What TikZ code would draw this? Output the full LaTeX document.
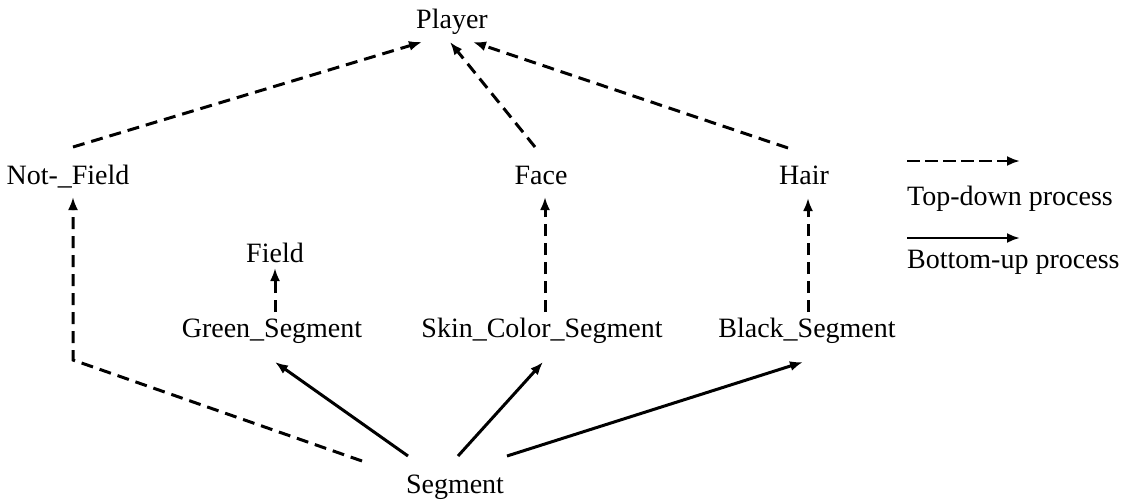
\documentclass[tikz,border=0pt]{standalone}
\usepackage{fontspec}
\setmainfont{Liberation Serif}
\usetikzlibrary{arrows.meta}

\tikzset{
  lbl/.style={font=\fontsize{28}{32}\selectfont, inner sep=0pt, anchor=base},
  link/.style={line width=3pt, -{Latex[length=13pt,width=10pt]}},
  topdown/.style={link, dash pattern=on 12pt off 7pt},
  bottomup/.style={link},
  keyline/.style={line width=2.5pt, -{Latex[length=13pt,width=10pt]}},
}

\begin{document}
\begin{tikzpicture}[x=1pt,y=-1pt]
  \useasboundingbox (0,0) rectangle (1126,499);

  % concept nodes
  \node[lbl] (pl) at (452,28)  {Player};
  \node[lbl] (nf) at (68,184)  {Not-\_Field};
  \node[lbl] (fa) at (541,184) {Face};
  \node[lbl] (ha) at (804,184) {Hair};
  \node[lbl] (fi) at (275,262) {Field};
  \node[lbl] (gs) at (272,337) {Green\_Segment};
  \node[lbl] (sk) at (542,337) {Skin\_Color\_Segment};
  \node[lbl] (bs) at (807,337) {Black\_Segment};
  \node[lbl] (sg) at (455,493) {Segment};

  % top-down links
  \draw[topdown] ([shift={(5,-37)}]nf.base)  -- ([shift={(-30,14)}]pl.base);
  \draw[topdown] ([shift={(-6,-37)}]fa.base) -- ([shift={(-2,14)}]pl.base);
  \draw[topdown] ([shift={(-16,-36)}]ha.base) -- ([shift={(21,14)}]pl.base);
  \draw[topdown] ([shift={(3,-25)}]sk.base) -- ([shift={(4,13)}]fa.base);
  \draw[topdown] ([shift={(1,-25)}]bs.base) -- ([shift={(4,14)}]ha.base);
  \draw[topdown] ([shift={(3,-25)}]gs.base) -- ([shift={(0,6)}]fi.base);
  \coordinate (bend) at ([shift={(5,176)}]nf.base);
  \draw[topdown] ([shift={(-93,-32)}]sg.base) -- (bend) -- ([shift={(5,13)}]nf.base);

  % bottom-up links
  \draw[bottomup] ([shift={(-47,-37)}]sg.base) -- ([shift={(3,25)}]gs.base);
  \draw[bottomup] ([shift={(3,-37)}]sg.base)   -- ([shift={(1,25)}]sk.base);
  \draw[bottomup] ([shift={(52,-37)}]sg.base)  -- ([shift={(-4,25)}]bs.base);

  % legend
  \coordinate (k1a) at (907,161);
  \coordinate (k1b) at (1020,161);
  \coordinate (k2a) at (907,238);
  \coordinate (k2b) at (1020,238);
  \draw[keyline, dash pattern=on 13pt off 5pt] (k1a) -- (k1b);
  \node[lbl, anchor=base west] (tdk) at (907,205) {Top-down process};
  \draw[keyline] (k2a) -- (k2b);
  \node[lbl, anchor=base west] (buk) at (907,268) {Bottom-up process};
\end{tikzpicture}
\end{document}
